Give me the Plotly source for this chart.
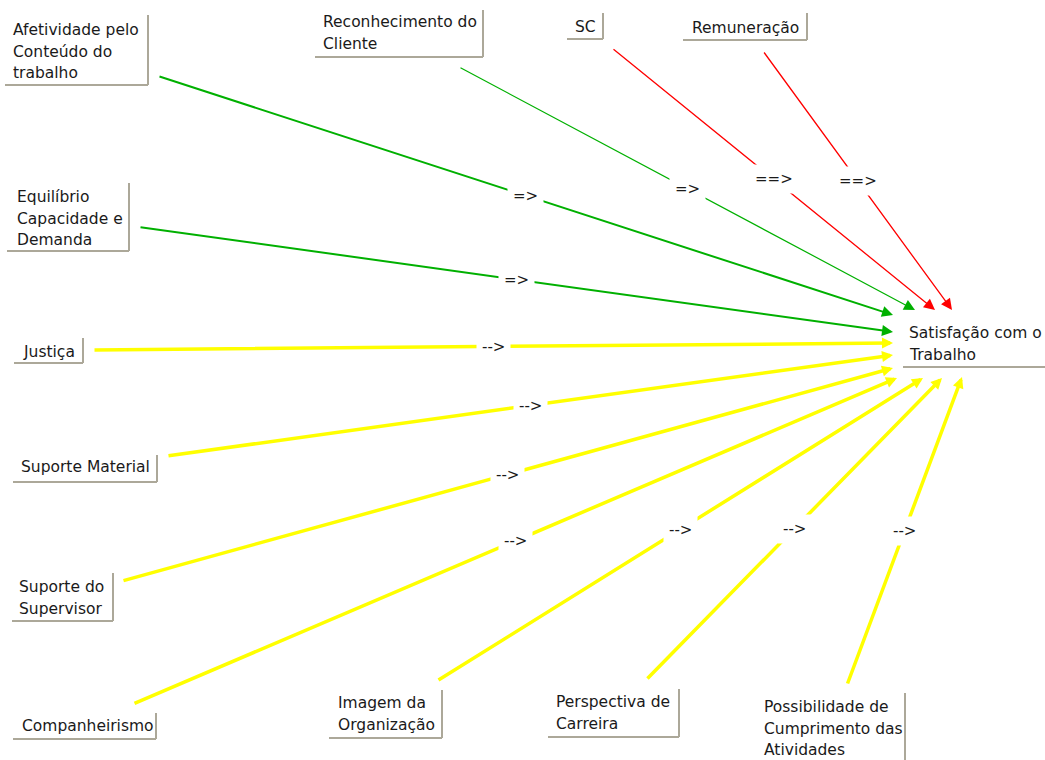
import plotly.graph_objects as go

# 先行要因（各ノードのラベル）
factors = [
    "Afetividade pelo<br>Conteúdo do<br>trabalho",
    "Reconhecimento do<br>Cliente",
    "SC",
    "Remuneração",
    "Equilíbrio<br>Capacidade e<br>Demanda",
    "Justiça",
    "Suporte Material",
    "Suporte do<br>Supervisor",
    "Companheirismo",
    "Imagem da<br>Organização",
    "Perspectiva de<br>Carreira",
    "Possibilidade de<br>Cumprimento das<br>Atividades",
]
target = "Satisfação com o<br>Trabalho"

# 影響の強さ（矢印の中央に表示する記号）
effects = ["=>", "=>", "==>", "==>", "=>", "-->", "-->", "-->", "-->", "-->", "-->", "-->"]

# レイアウト（ピクセル座標）
text_x = [11, 321, 573, 690, 15, 21, 19, 17, 20, 336, 554, 762]
text_y = [30, 22, 27, 28, 197, 352, 467, 587, 726, 703, 702, 707]
box_left = [5, 315, 567, 683, 7, 14, 13, 12, 13, 329, 548, 756]
box_top = [15, 10, 13, 13, 183, 338, 455, 573, 713, 690, 689, 693]
box_right = [148, 483, 603, 807, 129, 83, 157, 113, 156, 442, 679, 905]
box_bottom = [85, 57, 39, 40, 251, 363, 482, 621, 739, 738, 737, 775]

start_x = [158, 459, 612, 763, 139, 93, 167, 122, 133, 437, 646, 847]
start_y = [76, 67, 48, 51, 227, 350, 456, 581, 704, 681, 680, 685]
end_x = [893, 915, 935, 952, 893, 893, 893, 893, 897, 923, 942, 962]
end_y = [315, 310, 310, 310, 332, 343, 355, 368, 378, 378, 378, 377]

target_x, target_y = 907, 333

# 記号ごとの色
effect_color = {"=>": "#00b000", "==>": "#ff0000", "-->": "#ffff00"}
line_width = [2, 1.2, 1.3, 1.3, 2, 3.5, 3.5, 3.5, 3.5, 3.5, 3.5, 3.5]

text_font = dict(family="DejaVu Sans", size=15.5, color="#1a1a1a")
border_color = "#aca899"
line_gap = 21.5

fig = go.Figure()
annotations = []
shapes = []

# 矢印
for i in range(len(factors)):
    w = line_width[i]
    annotations.append(
        dict(
            x=end_x[i], y=end_y[i], ax=start_x[i], ay=start_y[i],
            xref="x", yref="y", axref="x", ayref="y",
            text="", showarrow=True, arrowhead=2,
            arrowwidth=w, arrowsize=2.2 / w,
            arrowcolor=effect_color[effects[i]],
        )
    )

# 矢印中央の記号
for i in range(len(factors)):
    annotations.append(
        dict(
            x=(start_x[i] + end_x[i]) / 2, y=(start_y[i] + end_y[i]) / 2,
            xref="x", yref="y", text=effects[i], showarrow=False,
            bgcolor="white", borderpad=5,
            font=dict(family="DejaVu Sans", size=15, color="#1a1a1a"),
        )
    )

# ノードのラベルと枠（右と下の線）
for i, label in enumerate(factors):
    for k, line in enumerate(label.split("<br>")):
        annotations.append(
            dict(
                x=text_x[i], y=text_y[i] + k * line_gap, xref="x", yref="y",
                text=line, showarrow=False, xanchor="left", yanchor="middle",
                font=text_font,
            )
        )
    shapes.append(dict(type="line", x0=box_right[i], x1=box_right[i], y0=box_top[i], y1=box_bottom[i],
                       xref="x", yref="y", line=dict(color=border_color, width=2)))
    shapes.append(dict(type="line", x0=box_left[i], x1=box_right[i], y0=box_bottom[i], y1=box_bottom[i],
                       xref="x", yref="y", line=dict(color=border_color, width=2)))

# 目的変数
for k, line in enumerate(target.split("<br>")):
    annotations.append(
        dict(
            x=target_x, y=target_y + k * line_gap, xref="x", yref="y",
            text=line, showarrow=False, xanchor="left", yanchor="middle",
            font=text_font,
        )
    )
shapes.append(dict(type="line", x0=903, x1=1045, y0=367, y1=367,
                   xref="x", yref="y", line=dict(color=border_color, width=2)))

fig.update_layout(
    width=1045,
    height=760,
    margin=dict(l=0, r=0, t=0, b=0),
    paper_bgcolor="white",
    plot_bgcolor="white",
    xaxis=dict(range=[0, 1045], visible=False, fixedrange=True),
    yaxis=dict(range=[760, 0], visible=False, fixedrange=True),
    annotations=annotations,
    shapes=shapes,
    showlegend=False,
)

# ページ余白をなくす
fig.write_html(
    "out.html",
    config={"displayModeBar": False},
    post_script="document.body.style.margin='0';document.body.style.overflow='hidden';",
)
